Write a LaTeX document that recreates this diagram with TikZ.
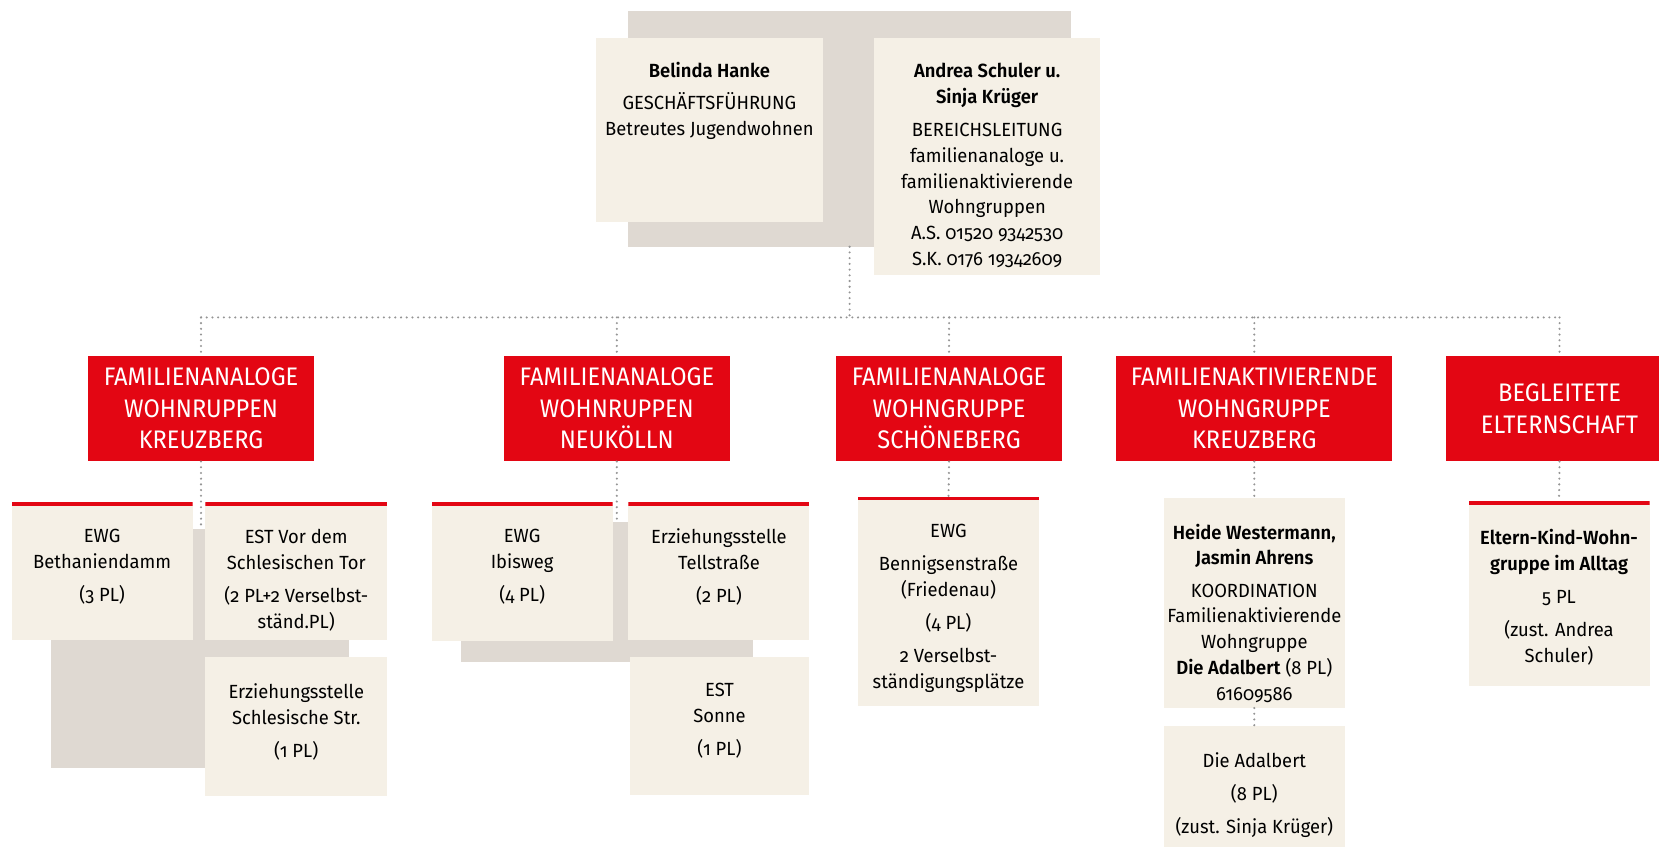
\documentclass[tikz,border=0pt]{standalone}
\usepackage{fontspec}
\setmainfont{Fira Sans}[Numbers=OldStyle, BoldFont={Fira Sans SemiBold}, FakeStretch=0.965]
\newfontfamily\headfont{Fira Sans}[FakeStretch=0.93]
\usetikzlibrary{positioning}
\definecolor{cream}{HTML}{F5F0E6}
\definecolor{stone}{HTML}{DFD9D2}
\definecolor{signal}{HTML}{E30613}
\definecolor{dots}{HTML}{959595}

\begin{document}
\begin{tikzpicture}[x=1pt,y=-1pt]
  \tikzstyle{pane}=[rectangle, fill=cream, inner sep=0pt]
  \tikzstyle{topline}=[path picture={\draw[signal, line width=6pt]
    (path picture bounding box.north west) -- (path picture bounding box.north east);}]
  \tikzstyle{boxtext}=[inner sep=0pt, align=center, font=\fontsize{18}{24.4}\selectfont]
  \tikzstyle{backing}=[rectangle, fill=stone, inner sep=0pt]
  \tikzstyle{unitbox}=[rectangle, fill=signal, text=white, inner sep=0pt, align=center,
    minimum width=214, minimum height=100, font=\headfont\fontsize{24}{30}\selectfont]
  \tikzstyle{dotlink}=[draw=dots, line width=2.2pt, line cap=round, dash pattern=on 0pt off 5.4pt]
  \useasboundingbox (0,0) rectangle (1568,800);

  % leitung
  \node[backing, minimum width=418, minimum height=223] (leadbg) at (803,121.5) {};
  \node[pane, minimum width=215, minimum height=174] (hanke) at (670.5,123) {};
  \node[boxtext, below=23pt of hanke.north] (hanke-t)
    {\textbf{Belinda Hanke}\\[6pt]GESCHÄFTSFÜHRUNG\\Betreutes Jugendwohnen};
  \node[pane, minimum width=214, minimum height=224] (schuler) at (933,148) {};
  \node[boxtext, below=23.5pt of schuler.north] (schuler-t)
    {\textbf{Andrea Schuler u.}\\\textbf{Sinja Krüger}\\[7pt]BEREICHSLEITUNG\\familienanaloge u.\\
     familienaktivierende\\Wohngruppen\\A.S. 01520 9342530\\S.K. 0176 19342609};

  % bereiche
  \node[unitbox] (h1) at (190,386) {FAMILIENANALOGE\\WOHNRUPPEN\\KREUZBERG};
  \node[unitbox] (h2) at (583,386) {FAMILIENANALOGE\\WOHNRUPPEN\\NEUKÖLLN};
  \node[unitbox] (h3) at (897,386) {FAMILIENANALOGE\\WOHNGRUPPE\\SCHÖNEBERG};
  \node[unitbox, minimum width=261] (h4) at (1185.5,386) {FAMILIENAKTIVIERENDE\\WOHNGRUPPE\\KREUZBERG};
  \node[unitbox] (h5) at (1474,386) {BEGLEITETE\\ELTERNSCHAFT};

  % kreuzberg
  \node[backing, minimum width=282, minimum height=226] (kbg) at (189,613) {};
  \node[pane, topline, minimum width=171, minimum height=130] (k1) at (96.5,540) {};
  \node[boxtext, below=25pt of k1.north] (k1-t) {EWG\\Bethaniendamm\\[7pt](3 PL)};
  \node[pane, topline, minimum width=172, minimum height=130] (k2) at (280,540) {};
  \node[boxtext, below=25pt of k2.north] (k2-t)
    {EST Vor dem\\Schlesischen Tor\\[7pt](2 PL+2 Verselbst-\\ständ.PL)};
  \node[pane, minimum width=172, minimum height=131] (k3) at (280,686.5) {};
  \node[boxtext, below=25pt of k3.north] (k3-t) {Erziehungsstelle\\Schlesische Str.\\[7pt](1 PL)};

  % neukoelln
  \node[backing, minimum width=276, minimum height=133] (nbg) at (574,559.5) {};
  \node[pane, topline, minimum width=171, minimum height=131] (n1) at (493.5,540.5) {};
  \node[boxtext, below=25pt of n1.north] (n1-t) {EWG\\Ibisweg\\[7pt](4 PL)};
  \node[pane, topline, minimum width=171, minimum height=130] (n2) at (679.5,540) {};
  \node[boxtext, below=25pt of n2.north] (n2-t) {Erziehungsstelle\\Tellstraße\\[7pt](2 PL)};
  \node[pane, minimum width=170, minimum height=130] (n3) at (680,686) {};
  \node[boxtext, below=25pt of n3.north] (n3-t) {EST\\Sonne\\[7pt](1 PL)};

  % schoeneberg
  \node[pane, topline, minimum width=171, minimum height=197] (s1) at (896.5,568.5) {};
  \node[boxtext, below=25pt of s1.north] (s1-t)
    {EWG\\[7pt]Bennigsenstraße\\(Friedenau)\\[7pt](4 PL)\\[7pt]2 Verselbst-\\ständigungsplätze};

  % adalbert
  \node[pane, minimum width=171, minimum height=198] (a1) at (1185.5,570) {};
  \node[boxtext, below=24pt of a1.north] (a1-t)
    {\textbf{Heide Westermann,}\\\textbf{Jasmin Ahrens}\\[6pt]KOORDINATION\\Familienaktivierende\\
     Wohngruppe\\\textbf{Die Adalbert} (8 PL)\\61609586};
  \node[pane, minimum width=171, minimum height=120] (a2) at (1185.5,746) {};
  \node[boxtext, below=25pt of a2.north] (a2-t) {Die Adalbert\\[7pt](8 PL)\\[7pt](zust. Sinja Krüger)};

  % elternschaft
  \node[pane, topline, minimum width=171, minimum height=174] (e1) at (1473.5,561) {};
  \node[boxtext, below=26pt of e1.north] (e1-t)
    {\textbf{Eltern-Kind-Wohn-}\\\textbf{gruppe im Alltag}\\[7pt]5 PL\\[7pt](zust. Andrea\\Schuler)};

  \coordinate (bus) at (803,300);
  \draw[dotlink] (leadbg.south) -- (bus);
  \draw[dotlink] (h1.north |- bus) -- (h5.north |- bus);
  \foreach \u in {h1,h2,h3,h4,h5}
    \draw[dotlink] (\u.north |- bus) -- (\u.north);
  \draw[dotlink] (h1.south) -- (h1.south |- kbg.north);
  \draw[dotlink] (h2.south) -- (h2.south |- nbg.north);
  \draw[dotlink] (h3.south) -- (s1.north);
  \draw[dotlink] (h4.south) -- (a1.north);
  \draw[dotlink] (a1.south) -- (a2.north);
  \draw[dotlink] (h5.south) -- (e1.north);
\end{tikzpicture}
\end{document}
